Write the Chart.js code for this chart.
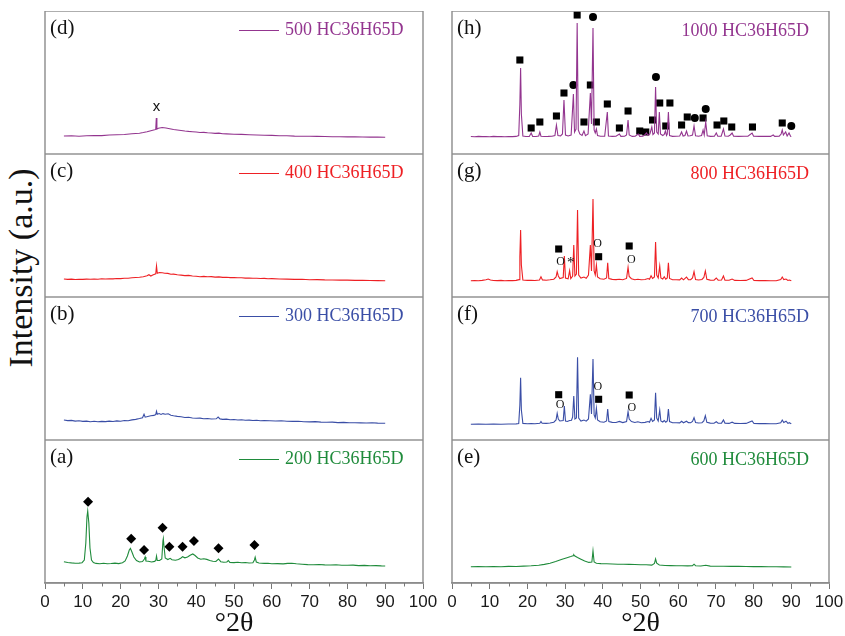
<!DOCTYPE html>
<html>
<head>
<meta charset="utf-8">
<script src="https://cdn.jsdelivr.net/npm/chart.js@4.4.1/dist/chart.umd.min.js"></script>
<style>
  body { margin: 0; background: #fff; overflow: hidden; }
  #wrap { position: relative; width: 845px; height: 636px; overflow: hidden; }
  #wrap canvas { position: absolute; }
  #ylab {
    position: absolute; left: 21px; top: 268px;
    transform: translate(-50%, -50%) rotate(-90deg);
    white-space: nowrap; font: 34px "Liberation Serif", serif; color: #111;
  }
</style>
</head>
<body>
<div id="wrap"><div id="ylab">Intensity (a.u.)</div></div>
<script>
// XRD patterns, [2theta, intensity] (intensity in arbitrary units, 0..143 per panel)
const xrd200 = [[5,21.3],[6,20.5],[7,20.1],[8,19.8],[9,19.9],[9.8,20.3],[10.4,23],[10.8,40],[11.1,66],[11.3,72],[11.6,60],[11.9,35],[12.3,23],[12.8,20.5],[13.5,19.6],[14.5,19.3],[15.5,19.8],[16.5,19.2],[17.5,19.5],[18.5,19.9],[19.5,19.4],[20.5,20.2],[21.2,22],[21.8,27],[22.3,33],[22.6,34.7],[23,31],[23.5,26],[24.2,22.5],[25,21],[25.8,21.5],[26.3,24],[26.5,26],[26.7,22],[27.3,21.8],[28.2,21],[29,21.6],[29.3,22.5],[29.5,27],[29.7,22.5],[30.3,22.5],[30.9,24],[31.2,42],[31.3,44.3],[31.5,36],[31.8,25],[32.5,23.5],[33.1,24.7],[33.6,23.2],[34.5,22.8],[35.3,23.5],[36,25],[36.4,26.3],[37,25.2],[37.7,26],[38.4,27.8],[39.1,29],[39.7,27.5],[40.4,25],[41.2,23.8],[42,24.2],[42.8,23.6],[43.6,22.5],[44.4,21.8],[45.2,21.5],[45.9,24],[46.5,21.3],[47.3,20.8],[48.1,21],[48.5,22.5],[48.9,20.6],[50,20.4],[51,20.7],[52,20.2],[53,20.5],[54,20],[55,20.3],[55.4,23],[55.6,25.7],[55.9,21],[56.6,20],[58,19.6],[59,19.8],[60,19.2],[61.5,19.4],[63,19.1],[64.2,19.6],[65.3,19.8],[66.5,19.2],[68,18.8],[69.5,18.4],[71,18.3],[72.5,18.5],[74,18.1],[75.5,18],[77,18.2],[78.5,17.8],[80,17.7],[81.5,17.9],[83,17.4],[84.5,17.6],[86,17.3],[87.5,17.4],[89,17.1],[90,17]];

const xrd300 = [[5,20],[6,19.4],[7,19.6],[8,18.9],[9,19.2],[10,18.6],[11,18.9],[12,18.3],[13,18.7],[14,18.2],[15,18.6],[16,18.4],[17,18.9],[18,18.5],[19,19.1],[20,18.8],[21,19.5],[22,19.3],[23,20.1],[24,20.6],[25,21.5],[25.8,22.3],[26.2,25.7],[26.5,22.8],[27.2,23.5],[28,24.3],[28.8,24.6],[29.3,25.5],[29.5,28.7],[29.7,25.8],[30.2,26.5],[30.7,25.6],[31.2,26.4],[31.8,25.8],[32.6,26.2],[33.3,24.8],[34,24.2],[35,23.6],[36,23.2],[37,22.5],[38,22.7],[39,22],[40,21.7],[41,21.9],[42,21.3],[43,21.5],[44,21],[45.3,21.2],[45.8,23],[46.3,21.1],[47,20.6],[48,20.9],[49,20.3],[50,20.5],[51,20],[52,20.2],[53,19.7],[54,19.9],[55,19.5],[56,19.7],[57,19.3],[58,19.5],[59.5,19.3],[61,19],[62.5,19.2],[64,18.7],[65.5,18.6],[67,18.8],[68.5,18.3],[70,18.1],[71.5,18.4],[73,17.9],[74.5,17.7],[76,17.9],[77.5,17.4],[79,17.6],[80.5,17.2],[82,17.3],[83.5,17.1],[85,17],[86.5,17.2],[88,16.9],[90,16.7]];

const xrd400 = [[5,18],[6,17.6],[7,17.9],[8,17.5],[9,17.8],[10,17.6],[11,17.9],[12,17.7],[13,18],[14,17.8],[15,18.2],[16,18],[17,18.3],[18,18.1],[19,18.5],[20,18.4],[21,18.8],[22,18.7],[23,19.2],[24,19.5],[25,19.7],[26,20.3],[27,21.2],[27.5,22.3],[28,21],[28.5,22],[29,22.8],[29.3,23.2],[29.5,31],[29.7,23.8],[30.3,24.5],[31,24.3],[31.7,23.8],[32.5,23.6],[33.3,22.7],[34,22.9],[35,22.2],[36,21.9],[37,21.4],[38,21.6],[39,21],[40,20.8],[41,20.3],[42,20.6],[43,20.2],[44,20.4],[45,19.9],[46,20.1],[47,19.6],[48,19.8],[49,19.4],[50,19.5],[51,19.2],[52,19.3],[53,18.9],[54,19],[55,18.7],[56,18.8],[57,18.5],[58,18.6],[59,18.3],[60,18.4],[62,18],[64,17.9],[66,17.6],[68,17.7],[70,17.3],[72,17.4],[74,17.1],[76,17],[78,16.9],[80,16.9],[82,16.6],[84,16.7],[86,16.5],[88,16.4],[90,16.3]];

const xrd500 = [[5,18],[7,18.2],[9,17.8],[11,18.3],[13,18.5],[15,18.4],[17,19],[19,19.3],[21,19.5],[23,20.2],[25,20.8],[26,21.5],[27,22.3],[28,23.3],[29,24.2],[29.3,24.6],[29.45,36],[29.6,25],[30,25.8],[31,26.5],[32,26],[33,25.3],[34,24.5],[35,24],[36,23.5],[37,23],[38,22.6],[39,22.3],[40,22],[41,21.5],[42,21.6],[43,21.2],[44,21],[45,20.6],[46,20.9],[47,20.3],[48,20.1],[50,19.8],[52,19.6],[54,19.3],[56,19],[58,18.8],[60,18.6],[62,18.2],[64,18.3],[66,17.9],[68,17.8],[70,17.7],[72,17.6],[74,17.5],[76,17.2],[78,17.3],[80,17.1],[82,17.2],[84,17],[86,16.9],[88,17],[90,16.8]];

const xrd600 = [[5,16.3],[7,16.5],[9,16.2],[11,16.4],[13,16.3],[15,16.6],[17,16.5],[19,16.9],[21,17.2],[23,17.8],[24.5,18.6],[26,19.8],[27.5,21.5],[29,23.4],[30.5,25.2],[31.5,26.4],[32.1,27.2],[32.3,28.3],[32.6,27],[33.3,25.5],[34.2,23.8],[35.2,22],[36.3,20.6],[37.1,21],[37.4,32],[37.7,21],[38.3,19.8],[39.5,19.4],[41,19.2],[42.5,19],[44,18.8],[45.5,18.7],[47,18.6],[48.5,18.5],[50,18.3],[51.5,18.2],[53,17.9],[53.7,19.5],[54,24],[54.3,19.8],[55,18],[56.5,17.5],[58,17.4],[59.5,17.3],[61,17.2],[62.5,17.1],[63.8,17.4],[64.2,18.8],[64.6,17.3],[66,17],[67.3,17.8],[68.5,16.9],[70,16.8],[72,16.7],[74,16.6],[76,16.6],[78,16.5],[80,16.4],[82,16.4],[84,16.3],[86,16.2],[88,16.1],[90,16]];

const xrd700 = [[5,15.8],[7,16],[9,15.7],[11,15.9],[13,15.8],[15,16],[17,16.1],[17.7,16.4],[18.0,35],[18.2,62.3],[18.4,30],[18.8,16.6],[20,16.2],[21,16.5],[22,16.3],[23.3,16.8],[23.6,18.5],[23.9,16.8],[25,16.6],[26,17],[27,17.8],[27.6,20],[27.9,26.7],[28.2,21],[28.6,19],[29.5,19.5],[29.8,34],[30.1,19],[30.6,18.5],[31.2,19.5],[31.7,19.8],[32.0,23],[32.3,44],[32.6,21],[33.0,22],[33.3,82.7],[33.6,22],[34.2,19],[35.0,20],[35.6,18.8],[36.2,21],[36.7,45.7],[37.0,26],[37.4,81],[37.7,25],[38.0,22],[38.3,31.7],[38.6,20],[39.3,18.2],[40.3,17.8],[41.0,19],[41.3,31],[41.6,18.5],[42.5,17.6],[43.5,17.5],[44.4,18.6],[45.3,17.4],[46.3,18.5],[46.7,28.3],[47.0,21],[47.6,18.5],[48.5,17.5],[49.3,18.3],[50.2,17.3],[51.2,17.6],[52.0,18.5],[52.4,17.8],[52.8,21.7],[53.2,18.5],[53.7,20],[54.0,47.3],[54.3,22],[54.7,19],[55.1,30],[55.4,19],[55.9,18],[56.3,19.5],[56.7,17.8],[57.1,19],[57.4,31],[57.7,18.5],[58.5,17.2],[59.5,17.3],[60.4,17.1],[60.9,18.7],[61.4,17.2],[62.2,18.8],[62.7,17.4],[63.3,17.2],[63.8,18.5],[64.2,22.3],[64.6,17.5],[65.4,17],[66.3,17.3],[66.8,19],[67.2,24.3],[67.6,17.6],[68.5,16.9],[69.5,16.8],[70.1,18.3],[70.6,16.8],[71.5,16.9],[72.0,20],[72.4,16.9],[73.5,16.6],[74.3,17.8],[75,16.6],[76.5,16.5],[78,16.6],[79.6,19],[80.1,16.5],[81.5,16.4],[83,16.5],[84.5,16.3],[86,16.2],[87.2,17.2],[87.6,20],[88,17.5],[88.6,18.8],[89.1,16.6],[89.5,17.3],[90,16.1]];

const xrd800 = [[5,16.3],[6,16.5],[7,16.3],[8,16.6],[9,17.2],[9.6,18],[10.2,17],[11,16.5],[12,16.4],[13,16.6],[14,16.3],[15,16.5],[16,16.4],[17,16.6],[17.8,17.4],[18.0,40],[18.2,67],[18.4,32],[18.8,17],[20,16.6],[21,16.8],[22,16.5],[23.2,17],[23.6,20.3],[24,17.1],[25,16.8],[26,17.2],[27,17.8],[27.6,20],[27.9,25.3],[28.2,21],[28.6,18.5],[29.5,19.5],[29.8,41],[30.1,19],[30.8,18.2],[31.2,26.3],[31.5,18.5],[32.0,21],[32.3,52],[32.6,21],[33.0,23],[33.3,87],[33.6,22],[34.2,19],[35.0,20],[35.6,18.8],[36.2,22],[36.7,52],[37.0,26],[37.4,98],[37.7,26],[38.0,22],[38.3,32],[38.6,20],[39.3,18.3],[40.3,17.8],[41.0,19],[41.3,34.3],[41.6,18.5],[42.5,17.6],[43.5,17.4],[44.4,17.8],[45.3,17.3],[46.3,18.6],[46.7,29.7],[47.0,20.5],[47.6,18.3],[48.5,17.3],[49.3,17.8],[50.2,17.2],[51.2,17.5],[52.0,18.5],[52.4,17.8],[52.8,21.3],[53.2,18.5],[53.7,20],[54.0,55],[54.3,22],[54.7,19],[55.1,31],[55.4,19],[55.9,18],[56.3,20.3],[56.7,17.8],[57.1,19],[57.4,34.3],[57.7,18.5],[58.5,17.2],[59.5,17.3],[60.4,17.1],[60.9,19],[61.4,17.2],[62.2,20],[62.7,17.4],[63.3,17.3],[63.8,19],[64.2,25.3],[64.6,17.5],[65.4,17],[66.3,17.5],[66.8,19.5],[67.2,26],[67.6,17.6],[68.5,16.9],[69.5,16.8],[70.1,19],[70.6,16.8],[71.5,17],[72.0,21],[72.4,16.9],[73.5,16.7],[74.3,18],[75,16.6],[76.5,16.5],[78,16.6],[79.6,19],[80.1,16.5],[81.5,16.4],[83,16.5],[84.5,16.3],[86,16.2],[87.2,17.5],[87.6,20],[88,17.4],[88.6,18],[89.1,16.5],[89.5,17],[90,16.2]];

const xrd1000 = [[5,17.5],[6,17.3],[7,17.6],[8,17.4],[9,17.5],[10,17.3],[11,17.6],[12,17.4],[13,17.5],[14,17.3],[15,17.5],[16,17.4],[17,17.6],[17.7,18.5],[18.0,50],[18.2,86],[18.4,40],[18.8,18],[19.6,17.5],[20.5,17.6],[21.0,21],[21.4,17.6],[22.3,17.5],[23.0,18],[23.3,22],[23.6,17.8],[24.5,17.5],[25.5,17.6],[26.5,17.8],[27.3,18.5],[27.7,29],[28.1,18.5],[28.8,18.2],[29.3,20],[29.7,54],[30.1,19],[30.8,18],[31.6,19],[32.2,60],[32.5,22],[32.9,25],[33.2,131],[33.5,24],[33.9,20],[34.5,18.5],[35.0,23],[35.4,18.3],[36.1,20],[36.7,61],[37.0,30],[37.4,126],[37.7,24],[38.0,21],[38.3,25],[38.6,18.5],[39.4,17.8],[40.5,17.7],[41.2,42],[41.5,18],[42.5,17.6],[43.5,17.7],[44.4,20],[44.8,17.6],[45.8,17.7],[46.3,19],[46.7,34],[47.0,19],[47.8,17.6],[48.6,17.7],[49.4,20],[49.8,17.6],[50.6,17.7],[51.1,19],[51.6,21],[52.0,18.5],[52.5,20],[53.0,27],[53.3,19.5],[53.7,21],[54.0,67],[54.3,22],[54.7,20],[55.0,42],[55.3,20],[55.9,18.5],[56.3,19.5],[56.6,23],[56.9,18.5],[57.1,20],[57.4,42],[57.7,18.5],[58.5,17.6],[59.5,17.7],[60.4,18],[60.9,22],[61.3,18],[61.8,18.5],[62.2,23],[62.6,18],[63.2,18.2],[63.8,19],[64.2,28],[64.6,18.2],[65.4,17.8],[66.2,18.5],[66.6,24],[66.9,19],[67.3,32],[67.7,18.2],[68.6,17.6],[69.6,17.8],[70.1,21],[70.5,17.8],[71.4,17.9],[72.0,25],[72.4,18],[73.3,17.8],[73.8,19],[74.3,21],[74.7,17.8],[76,17.6],[77.5,17.7],[78.5,17.8],[79.6,21],[80,17.8],[81.5,17.6],[83,17.8],[84.5,17.6],[85.2,19],[85.6,17.6],[86.8,17.8],[87.3,20],[87.6,24],[87.9,19],[88.5,22],[88.9,18],[89.4,21],[89.8,17.7],[90,17.5]];

// phase markers
const diamonds200 = [[11.4,81.3],[22.8,44.3],[26.2,33],[31.1,55.3],[32.9,36.3],[36.4,36.3],[39.4,42],[45.9,34.7],[55.4,38]];
const cross500 = [[29.5,47]];
const squares700 = [[28.3,45.3],[38.9,40.7],[47.0,45]];
const rings700 = [[28.7,35],[38.7,52.7],[47.7,31.7]];
const squares800 = [[28.3,48],[38.9,40.3],[47.0,51]];
const rings800 = [[28.8,35.3],[38.6,52.7],[47.6,37]];
const stars800 = [[31.5,34.3]];
const squares1000 = [[18.0,94],[21.0,26],[23.3,32],[27.7,38],[29.7,61],[33.2,139],[35.0,32],[36.7,69],[38.3,32],[41.2,50],[44.4,26],[46.7,43],[49.8,23],[51.4,22],[53.2,34],[55.1,51],[56.7,28],[57.8,51],[60.9,29],[62.4,37],[66.6,36],[70.3,29],[72.1,33],[74.2,27],[79.7,27],[87.6,31]];
const circles1000 = [[32.2,69],[37.4,137],[54.1,77],[64.4,36],[67.3,45],[90.0,28]];

const xTicks = [0, 10, 20, 30, 40, 50, 60, 70, 80, 90, 100];

const purple = '#93358f', red = '#ee2024', blue = '#3a4ea6', green = '#1f8b3b';
const serif = '"Liberation Serif", "Times New Roman", serif';

const colLeft = [45, 452], colWidth = [378, 377];
const rowTop = [11, 154, 297, 440], rowH = 143;
const PAD = 22;

const panels = [
  { tag: '(d)', col: 0, row: 0, data: xrd500, color: purple, name: '500 HC36H65D', texts: [{ pts: cross500, ch: 'x', font: '15px "Liberation Sans", sans-serif' }] },
  { tag: '(c)', col: 0, row: 1, data: xrd400, color: red, name: '400 HC36H65D' },
  { tag: '(b)', col: 0, row: 2, data: xrd300, color: blue, name: '300 HC36H65D' },
  { tag: '(a)', col: 0, row: 3, data: xrd200, color: green, name: '200 HC36H65D', diamonds: diamonds200 },
  { tag: '(h)', col: 1, row: 0, data: xrd1000, color: purple, name: '1000 HC36H65D', squares: squares1000, circles: circles1000 },
  { tag: '(g)', col: 1, row: 1, data: xrd800, color: red, name: '800 HC36H65D', squares: squares800,
    texts: [{ pts: rings800, ch: 'O', font: '12px ' + serif }, { pts: stars800, ch: '*', font: '15px ' + serif }] },
  { tag: '(f)', col: 1, row: 2, data: xrd700, color: blue, name: '700 HC36H65D', squares: squares700,
    texts: [{ pts: rings700, ch: 'O', font: '12px ' + serif }] },
  { tag: '(e)', col: 1, row: 3, data: xrd600, color: green, name: '600 HC36H65D' }
];

const panelDecor = {
  id: 'panelDecor',
  afterDraw(chart, args, o) {
    const { ctx, chartArea: a, scales: { x, y } } = chart;
    ctx.save();
    ctx.strokeStyle = '#8c8c8c';
    ctx.lineWidth = 1.4;
    ctx.strokeRect(a.left, a.top, a.right - a.left, a.bottom - a.top);

    if (o.bottom) {
      ctx.beginPath();
      for (let v = 5; v < 100; v += 10) {
        const px = Math.round(x.getPixelForValue(v)) + 0.5;
        ctx.moveTo(px, a.bottom);
        ctx.lineTo(px, a.bottom + 3.5);
      }
      ctx.lineWidth = 1;
      ctx.strokeStyle = '#777';
      ctx.stroke();
    }

    (o.texts || []).forEach(t => {
      ctx.font = t.font;
      ctx.fillStyle = '#111';
      ctx.textAlign = 'center';
      ctx.textBaseline = 'middle';
      t.pts.forEach(p => ctx.fillText(t.ch, x.getPixelForValue(p[0]), y.getPixelForValue(p[1])));
    });

    ctx.textBaseline = 'middle';
    ctx.textAlign = 'left';
    ctx.fillStyle = '#111';
    ctx.font = '21px ' + serif;
    ctx.fillText(o.tag, a.left + 5, a.top + 17);

    ctx.font = '18px ' + serif;
    ctx.fillStyle = o.color;
    if (o.col === 0) {
      ctx.fillText(o.name, a.left + 240, a.top + 19);
      ctx.beginPath();
      ctx.moveTo(a.left + 194, a.top + 19.5);
      ctx.lineTo(a.left + 234, a.top + 19.5);
      ctx.strokeStyle = o.color;
      ctx.lineWidth = 1.2;
      ctx.stroke();
    } else {
      ctx.textAlign = 'right';
      ctx.fillText(o.name, a.right - 20, a.top + 20);
    }
    ctx.restore();
  }
};

const wrap = document.getElementById('wrap');

panels.forEach(p => {
  const bottom = p.row === 3;
  const cv = document.createElement('canvas');
  const w = colWidth[p.col] + 2 * PAD;
  const h = bottom ? rowH + 57 : rowH;
  cv.width = w; cv.height = h;
  cv.style.left = (colLeft[p.col] - PAD) + 'px';
  cv.style.top = rowTop[p.row] + 'px';
  cv.style.width = w + 'px'; cv.style.height = h + 'px';
  wrap.appendChild(cv);

  const datasets = [{
    type: 'line',
    data: p.data.map(d => ({ x: d[0], y: d[1] })),
    borderColor: p.color,
    borderWidth: 1.1,
    pointRadius: 0,
    tension: 0
  }];
  if (p.squares) datasets.push({
    type: 'scatter', data: p.squares.map(d => ({ x: d[0], y: d[1] })),
    pointStyle: 'rect', pointRadius: 5, backgroundColor: '#000', borderWidth: 0, clip: false
  });
  if (p.circles) datasets.push({
    type: 'scatter', data: p.circles.map(d => ({ x: d[0], y: d[1] })),
    pointStyle: 'circle', pointRadius: 4, backgroundColor: '#000', borderWidth: 0, clip: false
  });
  if (p.diamonds) datasets.push({
    type: 'scatter', data: p.diamonds.map(d => ({ x: d[0], y: d[1] })),
    pointStyle: 'rectRot', pointRadius: 5, backgroundColor: '#000', borderWidth: 0, clip: false
  });

  const xScale = {
    type: 'linear', min: 0, max: 100,
    display: bottom,
    afterBuildTicks: s => { s.ticks = xTicks.map(v => ({ value: v })); },
    ticks: { maxRotation: 0, autoSkip: false, padding: 3, color: '#1a1a1a', font: { family: '"Liberation Sans", Arial, sans-serif', size: 17 } },
    grid: { drawOnChartArea: false, tickLength: 6, color: '#777' },
    border: { color: '#8c8c8c', width: 1.4 },
    title: { display: true, text: '°2θ', color: '#111', font: { family: serif, size: 28 }, padding: 0 }
  };
  if (bottom) xScale.afterFit = s => { s.height = 57; };

  new Chart(cv, {
    type: 'line',
    data: { datasets },
    options: {
      responsive: false,
      maintainAspectRatio: false,
      animation: false,
      events: [],
      layout: { autoPadding: false, padding: { left: PAD, right: PAD, top: 0, bottom: 0 } },
      plugins: {
        legend: { display: false },
        tooltip: { enabled: false },
        panelDecor: { tag: p.tag, name: p.name, color: p.color, col: p.col, bottom, texts: p.texts }
      },
      scales: {
        x: xScale,
        y: { type: 'linear', min: 0, max: 143, display: false }
      }
    },
    plugins: [panelDecor]
  });
});
</script>
</body>
</html>
